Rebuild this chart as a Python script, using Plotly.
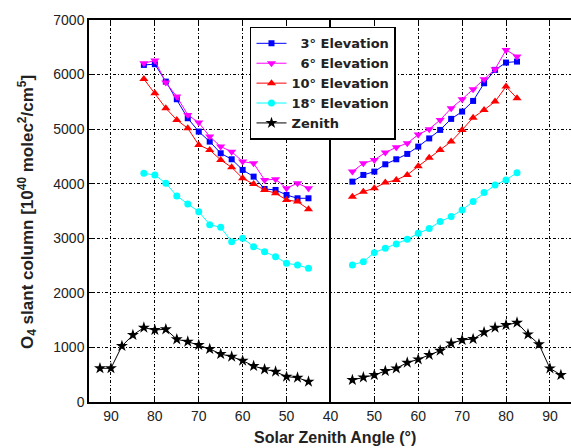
import plotly.graph_objects as go

# Solar zenith angles (degrees): morning values run from high SZA down to 45,
# afternoon values from 45 back up.
sza_am_elev = [82.5, 80, 77.5, 75, 72.5, 70, 67.5, 65, 62.5, 60, 57.5, 55, 52.5, 50, 47.5, 45]
sza_pm_elev = [45, 47.5, 50, 52.5, 55, 57.5, 60, 62.5, 65, 67.5, 70, 72.5, 75, 77.5, 80, 82.5]
sza_am_zen = [92.5, 90, 87.5, 85, 82.5, 80, 77.5, 75, 72.5, 70, 67.5, 65, 62.5, 60, 57.5, 55, 52.5, 50, 47.5, 45]
sza_pm_zen = [45, 47.5, 50, 52.5, 55, 57.5, 60, 62.5, 65, 67.5, 70, 72.5, 75, 77.5, 80, 82.5, 85, 87.5, 90, 92.5]

# O4 slant columns [1e40 molec^2/cm^5]
elev3_am = [6177, 6190, 5871, 5548, 5200, 4955, 4772, 4558, 4448, 4253, 4130, 3904, 3886, 3794, 3733, 3733]
elev3_pm = [4038, 4161, 4222, 4356, 4448, 4546, 4680, 4830, 4986, 5188, 5322, 5517, 5841, 6086, 6220, 6238]
elev6_am = [6208, 6256, 5853, 5597, 5261, 5120, 4863, 4680, 4588, 4405, 4374, 4069, 4082, 3917, 4009, 3917]
elev6_pm = [4222, 4374, 4436, 4570, 4668, 4741, 4900, 5000, 5169, 5383, 5548, 5731, 5915, 6098, 6452, 6330]
elev10_am = [5920, 5658, 5383, 5169, 5016, 4711, 4619, 4436, 4300, 4100, 3996, 3886, 3825, 3703, 3672, 3532]
elev10_pm = [3763, 3855, 3917, 4020, 4069, 4161, 4320, 4475, 4619, 4772, 4986, 5211, 5352, 5505, 5780, 5566]
elev18_am = [4190, 4161, 4008, 3776, 3630, 3488, 3250, 3200, 2938, 3000, 2847, 2755, 2663, 2541, 2511, 2450]
elev18_pm = [2511, 2572, 2737, 2817, 2896, 2982, 3090, 3178, 3306, 3398, 3520, 3672, 3837, 3978, 4069, 4203]
zenith_am = [618, 618, 1026, 1228, 1362, 1320, 1332, 1149, 1106, 1045, 971, 880, 831, 757, 660, 599, 556, 464, 446, 373]
zenith_pm = [403, 452, 495, 568, 617, 721, 782, 862, 941, 1075, 1136, 1155, 1277, 1362, 1411, 1454, 1240, 1057, 617, 495]

tick_sza = [90, 80, 70, 60, 50, 40, 50, 60, 70, 80, 90]

# Fold the day onto one axis: morning to the left of SZA 40, afternoon to the right.
def am_pos(s):
    return [40 - v for v in s]

def pm_pos(s):
    return [v - 40 for v in s]

def split_xy(am_s, am_v, pm_s, pm_v):
    x = am_pos(am_s) + [None] + pm_pos(pm_s)
    y = am_v + [None] + pm_v
    return x, y

series = [
    ("\u00a0\u00a03° Elevation", "#0000FF", "square", 6, sza_am_elev, elev3_am, sza_pm_elev, elev3_pm),
    ("\u00a0\u00a06° Elevation", "#FF00FF", "triangle-down", 8, sza_am_elev, elev6_am, sza_pm_elev, elev6_pm),
    ("10° Elevation", "#FF0000", "triangle-up", 8, sza_am_elev, elev10_am, sza_pm_elev, elev10_pm),
    ("18° Elevation", "#00FFFF", "circle", 7, sza_am_elev, elev18_am, sza_pm_elev, elev18_pm),
    ("Zenith", "#000000", "star", 9, sza_am_zen, zenith_am, sza_pm_zen, zenith_pm),
]

fig = go.Figure()
for name, color, symbol, size, am_s, am_v, pm_s, pm_v in series:
    x, y = split_xy(am_s, am_v, pm_s, pm_v)
    fig.add_trace(go.Scatter(
        x=x, y=y, name=f"<b>{name}</b>", mode="lines+markers",
        line=dict(color=color, width=1),
        marker=dict(symbol=symbol, size=size, color=color, line=dict(width=0)),
        connectgaps=False,
    ))

tick_pos = [-50, -40, -30, -20, -10, 0, 10, 20, 30, 40, 50]
font_family = "Liberation Sans, Arial, Helvetica, sans-serif"
grid_dash = "3px,2px,1px,2px"

fig.update_layout(
    width=571, height=448,
    margin=dict(l=89, r=0, t=20, b=46),
    paper_bgcolor="white", plot_bgcolor="white",
    font=dict(family=font_family, color="#111111"),
    showlegend=True,
    legend=dict(
        x=0.334, y=0.982, xanchor="left", yanchor="top",
        bordercolor="#000000", borderwidth=1.5, bgcolor="white",
        font=dict(family="DejaVu Sans, sans-serif", size=13, color="#222222"),
        itemwidth=30, tracegroupgap=0,
    ),
    xaxis=dict(
        range=[-55, 54.8],
        tickmode="array", tickvals=tick_pos, ticktext=[str(t) for t in tick_sza],
        ticks="inside", ticklen=5, tickcolor="black",
        showline=True, linecolor="black", linewidth=1.5, mirror="ticks",
        showgrid=True, gridcolor="black", gridwidth=1, griddash=grid_dash,
        zeroline=True, zerolinecolor="black", zerolinewidth=1.5,
        tickfont=dict(size=14, color="#222222"),
    ),
    yaxis=dict(
        range=[0, 7000], tickmode="linear", tick0=0, dtick=1000,
        ticks="inside", ticklen=5, tickcolor="black",
        showline=True, linecolor="black", linewidth=1.5, mirror=False,
        showgrid=True, gridcolor="black", gridwidth=1, griddash=grid_dash,
        zeroline=False,
        tickfont=dict(size=14, color="#222222"),
    ),
    annotations=[
        dict(text="<b>Solar Zenith Angle (°)</b>", xref="paper", yref="paper",
             x=0.511, y=-0.092, xanchor="center", yanchor="middle", showarrow=False,
             font=dict(size=16, color="#222222")),
        dict(text="<b>O<sub>4</sub> slant column [10<sup>40</sup> molec<sup>2</sup>/cm<sup>5</sup>]</b>",
             xref="paper", yref="paper", x=-0.129, y=0.497, xanchor="center", yanchor="middle",
             textangle=-90, showarrow=False, font=dict(size=17, color="#222222")),
    ],
)

fig.write_html("out.html")
